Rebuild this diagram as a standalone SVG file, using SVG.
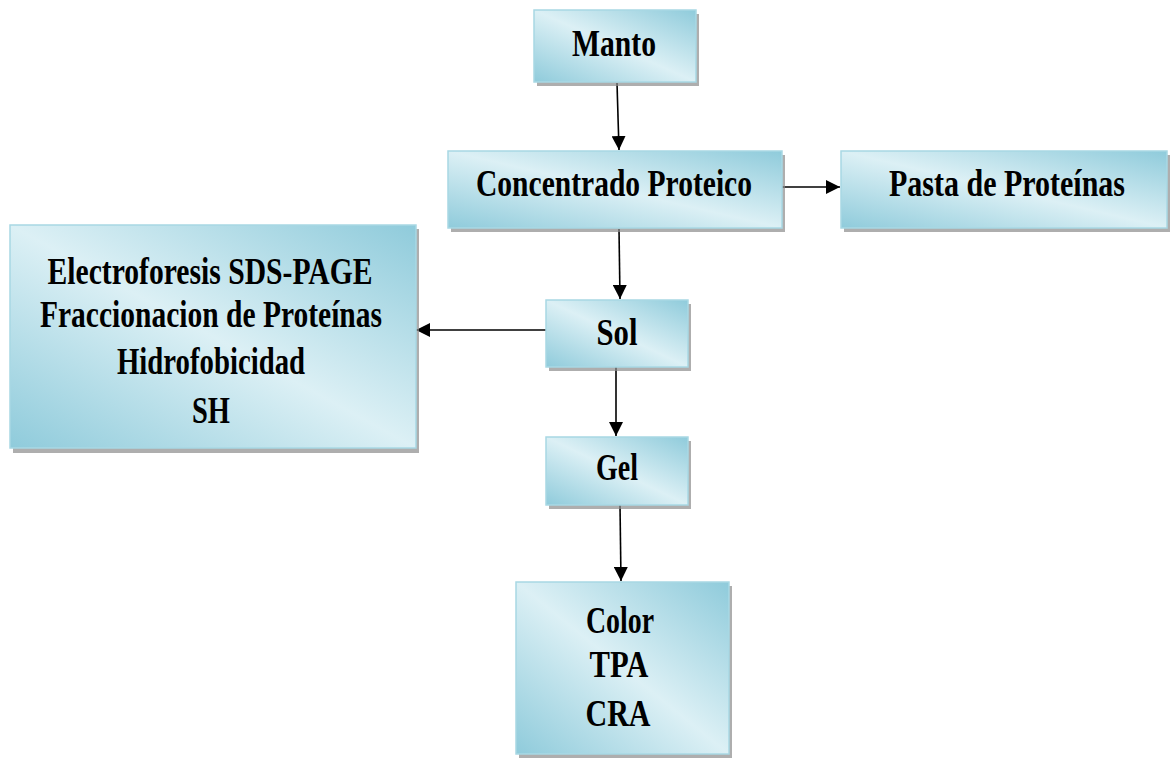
<svg xmlns="http://www.w3.org/2000/svg" width="1172" height="761" viewBox="0 0 1172 761">
<defs>
<linearGradient id="g" x1="0" y1="1" x2="1" y2="0">
<stop offset="0" stop-color="#8fcbdb"/>
<stop offset="0.5" stop-color="#dcf0f5"/>
<stop offset="1" stop-color="#8fcbdb"/>
</linearGradient>
<marker id="ah" viewBox="0 0 10 10" refX="10" refY="5" markerWidth="14" markerHeight="14" markerUnits="userSpaceOnUse" orient="auto">
<path d="M0,0 L10,5 L0,10 z" fill="#000"/>
</marker>
</defs>
<style>
.sh{fill:#8c8c8c;opacity:0.7}
.bx{fill:url(#g);stroke:#a8d8e4;stroke-width:1.5}
.t{font-family:"Liberation Serif","DejaVu Serif","Times New Roman",serif;font-weight:bold;font-size:38px;fill:#000;text-anchor:middle}
.c{stroke:#000;stroke-width:1.6;fill:none;marker-end:url(#ah)}
</style>
<rect width="1172" height="761" fill="#fff"/>
<g id="connectors">
<line class="c" x1="617" y1="83" x2="619" y2="150"/>
<line class="c" x1="782" y1="187" x2="840" y2="187"/>
<line class="c" x1="619" y1="229" x2="620" y2="299"/>
<line class="c" x1="546" y1="330" x2="416" y2="330"/>
<line class="c" x1="616" y1="367" x2="616" y2="436"/>
<line class="c" x1="620" y1="505" x2="621" y2="581"/>
</g>
<g id="manto">
<rect class="sh" x="537" y="14" width="162" height="72"/>
<rect class="bx" x="534" y="10" width="162" height="72"/>
<text class="t" x="614" y="56" textLength="84" lengthAdjust="spacingAndGlyphs">Manto</text>
</g>
<g id="concentrado">
<rect class="sh" x="451" y="155" width="334" height="77"/>
<rect class="bx" x="448" y="151" width="334" height="77"/>
<text class="t" x="614" y="196" textLength="276" lengthAdjust="spacingAndGlyphs">Concentrado Proteico</text>
</g>
<g id="pasta">
<rect class="sh" x="844" y="155" width="326" height="77"/>
<rect class="bx" x="841" y="151" width="326" height="77"/>
<text class="t" x="1007" y="196" textLength="236" lengthAdjust="spacingAndGlyphs">Pasta de Proteínas</text>
</g>
<g id="analisis">
<rect class="sh" x="13" y="229" width="406" height="224"/>
<rect class="bx" x="10" y="225" width="406" height="223"/>
<text class="t" x="210" y="284" textLength="325" lengthAdjust="spacingAndGlyphs">Electroforesis SDS-PAGE</text>
<text class="t" x="211" y="327" textLength="342" lengthAdjust="spacingAndGlyphs">Fraccionacion de Proteínas</text>
<text class="t" x="211" y="374" textLength="188" lengthAdjust="spacingAndGlyphs">Hidrofobicidad</text>
<text class="t" x="211" y="423" textLength="38" lengthAdjust="spacingAndGlyphs">SH</text>
</g>
<g id="sol">
<rect class="sh" x="549" y="304" width="142" height="67"/>
<rect class="bx" x="546" y="300" width="142" height="67"/>
<text class="t" x="617" y="345" textLength="41" lengthAdjust="spacingAndGlyphs">Sol</text>
</g>
<g id="gel">
<rect class="sh" x="549" y="441" width="142" height="68"/>
<rect class="bx" x="546" y="437" width="142" height="68"/>
<text class="t" x="617" y="480" textLength="42" lengthAdjust="spacingAndGlyphs">Gel</text>
</g>
<g id="resultados">
<rect class="sh" x="519" y="586" width="213" height="172"/>
<rect class="bx" x="516" y="582" width="213" height="172"/>
<text class="t" x="620" y="633" textLength="68" lengthAdjust="spacingAndGlyphs">Color</text>
<text class="t" x="619" y="677" textLength="59" lengthAdjust="spacingAndGlyphs">TPA</text>
<text class="t" x="618" y="726" textLength="65" lengthAdjust="spacingAndGlyphs">CRA</text>
</g>
</svg>
